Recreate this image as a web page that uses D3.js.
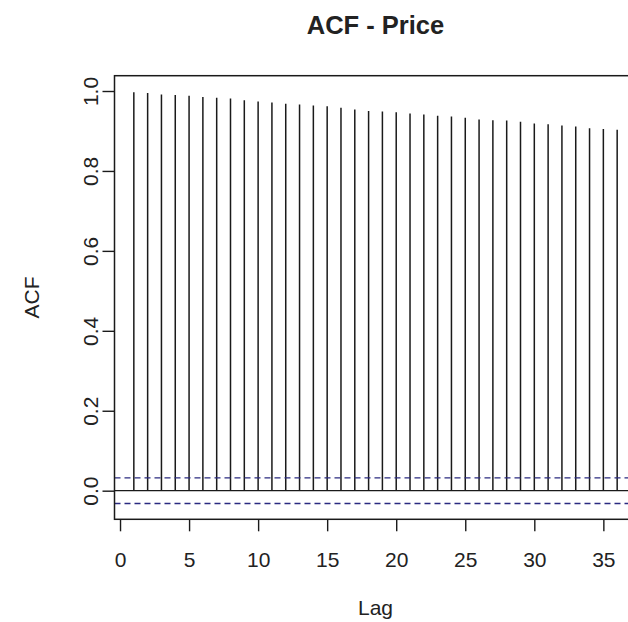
<!DOCTYPE html>
<html>
<head>
<meta charset="utf-8">
<script src="https://cdn.jsdelivr.net/npm/d3@7"></script>
<style>
  html, body { margin: 0; padding: 0; background: #fff; }
  svg { display: block; }
  text { font-family: "Liberation Sans", Arial, Helvetica, sans-serif; fill: #222; }
</style>
</head>
<body>
<svg id="chart" width="628" height="622"></svg>
<script>
// ---- data ----
const title = "ACF - Price";
const xLabel = "Lag";
const yLabel = "ACF";
const lags = [1,2,3,4,5,6,7,8,9,10,11,12,13,14,15,16,17,18,19,20,21,22,23,24,25,26,27,28,29,30,31,32,33,34,35,36];
const acfValues = [0.997,0.995,0.991,0.990,0.988,0.985,0.983,0.981,0.977,0.974,0.971,0.968,
                   0.966,0.964,0.962,0.958,0.954,0.950,0.949,0.947,0.944,0.941,0.938,0.936,
                   0.933,0.929,0.927,0.926,0.923,0.919,0.917,0.914,0.911,0.907,0.905,0.903];
const confBound = 0.032;
const xTicks = [0,5,10,15,20,25,30,35];
const yTicks = [0.0,0.2,0.4,0.6,0.8,1.0];

// ---- layout ----
const svg = d3.select("#chart");
const plot = { left: 114.5, right: 636.5, top: 75.7, bottom: 519.3 };
const x = d3.scaleLinear().domain([-0.4, 37.4]).range([plot.left, plot.right]);
const y = d3.scaleLinear().domain([-0.0716, 1.0383]).range([plot.bottom, plot.top]);
const ink = "#1a1a1a";

// bars (spikes)
svg.append("g").selectAll("line").data(lags).join("line")
  .attr("x1", d => x(d)).attr("x2", d => x(d))
  .attr("y1", y(0)).attr("y2", (d, i) => y(acfValues[i]))
  .attr("stroke", ink).attr("stroke-width", 1.5);

// zero line
svg.append("line")
  .attr("x1", plot.left).attr("x2", plot.right)
  .attr("y1", y(0)).attr("y2", y(0))
  .attr("stroke", ink).attr("stroke-width", 1.3);

// confidence bounds
[confBound, -confBound].forEach(v => {
  svg.append("line")
    .attr("x1", plot.left).attr("x2", plot.right)
    .attr("y1", y(v)).attr("y2", y(v))
    .attr("stroke", "#2a2a80").attr("stroke-width", 1.4)
    .attr("stroke-dasharray", "6,4");
});

// box
svg.append("rect")
  .attr("x", plot.left).attr("y", plot.top)
  .attr("width", plot.right - plot.left).attr("height", plot.bottom - plot.top)
  .attr("fill", "none").attr("stroke", ink).attr("stroke-width", 1.5);

// x axis
const gx = svg.append("g").attr("transform", `translate(0,${plot.bottom})`)
  .call(d3.axisBottom(x).tickValues(xTicks).tickSize(12).tickFormat(d3.format("d")));
gx.select(".domain").remove();
gx.selectAll(".tick line").attr("stroke", ink).attr("stroke-width", 1.4);
gx.selectAll(".tick text").attr("y", 48).attr("dy", 0)
  .style("font-size", "21px").attr("fill", "#222");

// y axis
const gy = svg.append("g").attr("transform", `translate(${plot.left},0)`)
  .call(d3.axisLeft(y).tickValues(yTicks).tickSize(12).tickFormat(d3.format(".1f")));
gy.select(".domain").remove();
gy.selectAll(".tick line").attr("stroke", ink).attr("stroke-width", 1.4);
gy.selectAll(".tick text")
  .attr("x", 0).attr("y", 0).attr("dy", 0)
  .attr("text-anchor", "middle")
  .attr("transform", "translate(-17,0) rotate(-90)")
  .style("font-size", "21px").attr("fill", "#222");

// title
svg.append("text")
  .attr("x", (plot.left + plot.right) / 2).attr("y", 33.5)
  .attr("text-anchor", "middle")
  .style("font-size", "25.5px").style("font-weight", "bold")
  .text(title);

// axis labels
svg.append("text")
  .attr("x", (plot.left + plot.right) / 2).attr("y", 615)
  .attr("text-anchor", "middle").style("font-size", "21px")
  .text(xLabel);

svg.append("text")
  .attr("transform", `translate(${plot.left - 76},${(plot.top + plot.bottom) / 2}) rotate(-90)`)
  .attr("text-anchor", "middle").style("font-size", "21px")
  .text(yLabel);
</script>
</body>
</html>
